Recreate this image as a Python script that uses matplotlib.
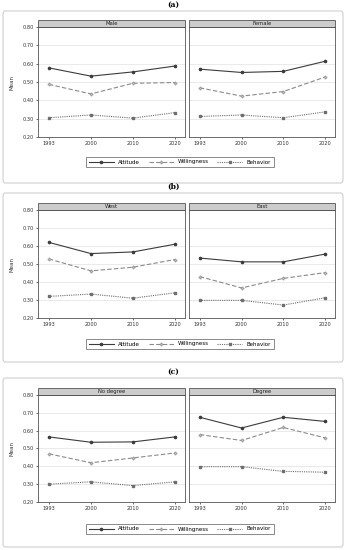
import matplotlib
matplotlib.use("Agg")
import matplotlib.pyplot as plt
from matplotlib.patches import FancyBboxPatch, Rectangle
from matplotlib.lines import Line2D

# DATA
years = ["1993", "2000", "2010", "2020"]
series_names = ["Attitude", "Willingness", "Behavior"]
block_titles = ["(a)", "(b)", "(c)"]
panel_titles = [["Male", "Female"], ["West", "East"], ["No degree", "Degree"]]

male_att = [0.577, 0.532, 0.555, 0.587]
male_will = [0.487, 0.435, 0.493, 0.497]
male_beh = [0.305, 0.320, 0.303, 0.333]
female_att = [0.570, 0.552, 0.558, 0.613]
female_will = [0.468, 0.423, 0.448, 0.527]
female_beh = [0.312, 0.320, 0.305, 0.337]

west_att = [0.620, 0.558, 0.567, 0.610]
west_will = [0.528, 0.462, 0.482, 0.525]
west_beh = [0.320, 0.333, 0.310, 0.340]
east_att = [0.533, 0.512, 0.512, 0.555]
east_will = [0.430, 0.367, 0.420, 0.452]
east_beh = [0.298, 0.298, 0.272, 0.312]

nodeg_att = [0.565, 0.535, 0.537, 0.565]
nodeg_will = [0.470, 0.420, 0.447, 0.475]
nodeg_beh = [0.300, 0.313, 0.292, 0.313]
deg_att = [0.675, 0.615, 0.675, 0.652]
deg_will = [0.578, 0.545, 0.618, 0.560]
deg_beh = [0.398, 0.398, 0.372, 0.367]

panel_data = [
    [(male_att, male_will, male_beh), (female_att, female_will, female_beh)],
    [(west_att, west_will, west_beh), (east_att, east_will, east_beh)],
    [(nodeg_att, nodeg_will, nodeg_beh), (deg_att, deg_will, deg_beh)],
]
yticks = [0.2, 0.3, 0.4, 0.5, 0.6, 0.7, 0.8]

# STYLES
styles = [
    dict(color="#3c3c3c", ls="-", lw=0.8, marker="o", ms=1.6, mfc="#3c3c3c", mec="#3c3c3c"),
    dict(color="#8a8a8a", ls=(0, (4, 2)), lw=0.8, marker="P", ms=2.2, mfc="#c8c8c8", mec="#8a8a8a", mew=0.4),
    dict(color="#6e6e6e", ls=(0, (1, 1)), lw=0.8, marker="s", ms=1.6, mfc="#6e6e6e", mec="#6e6e6e"),
]

W, H = 347, 550
fig = plt.figure(figsize=(W / 100, H / 100), dpi=100)
fig.patch.set_facecolor("white")


def fx(px):
    return px / W


def fy(py):
    return 1 - py / H


# pixel layout of each block: (title y, box top, box bottom, plot top, plot bottom, legend center y)
blocks = [
    (5, 11, 183, 27, 137, 162),
    (187, 193, 362, 210, 318, 344),
    (372, 378, 547, 395, 502, 529),
]
panels_x = [(38, 185), (189, 335)]
x = list(range(len(years)))

for b, (ty, btop, bbot, ptop, pbot, legy) in enumerate(blocks):
    fig.text(0.5, fy(ty), block_titles[b], ha="center", va="center",
             fontsize=5.5, fontweight="bold", family="DejaVu Serif")
    box = FancyBboxPatch((fx(3), fy(bbot)), fx(340), (bbot - btop) / H,
                         boxstyle="round,pad=0,rounding_size=0.006",
                         transform=fig.transFigure, fc="none", ec="#cfcfcf", lw=0.8)
    fig.patches.append(box)

    for p, (x0, x1) in enumerate(panels_x):
        ax = fig.add_axes([fx(x0), fy(pbot), fx(x1 - x0), (pbot - ptop) / H])
        for s, vals in enumerate(panel_data[b][p]):
            ax.plot(x, vals, label=series_names[s], **styles[s])
        ax.set_xlim(-0.26, 3.24)
        ax.set_ylim(0.2, 0.8)
        ax.set_yticks(yticks)
        ax.grid(axis="y", color="#e6e6e6", lw=0.6)
        ax.set_axisbelow(True)
        ax.set_xticks(x)
        ax.set_xticklabels(years)
        ax.tick_params(labelsize=3.6, length=1.5, width=0.5, pad=1.5, colors="#333333")
        for sp in ax.spines.values():
            sp.set_color("#555555")
            sp.set_linewidth(0.6)
        if p == 0:
            ax.set_yticklabels(["%.2f" % v for v in yticks])
            ax.set_ylabel("Mean", fontsize=4, labelpad=6, color="#333333")
        else:
            ax.tick_params(axis="y", left=False, labelleft=False)
        # header strip
        strip = Rectangle((0, 1), 1, 7 / (pbot - ptop), transform=ax.transAxes,
                          fc="#cccccc", ec="#555555", lw=0.6, clip_on=False)
        ax.add_patch(strip)
        ax.text(0.5, 1 + 3.5 / (pbot - ptop), panel_titles[b][p], transform=ax.transAxes,
                ha="center", va="center", fontsize=3.8, color="#222222")

    handles = [Line2D([], [], **st) for st in styles]
    leg = fig.legend(handles, series_names, loc="center", bbox_to_anchor=(fx(180), fy(legy)),
                     ncol=3, fontsize=4, frameon=True, fancybox=False, handlelength=4.5,
                     columnspacing=1.5, handletextpad=0.8, borderpad=0.45)
    leg.get_frame().set_edgecolor("#555555")
    leg.get_frame().set_linewidth(0.6)

fig.savefig("out.png", dpi=100, facecolor="white")
